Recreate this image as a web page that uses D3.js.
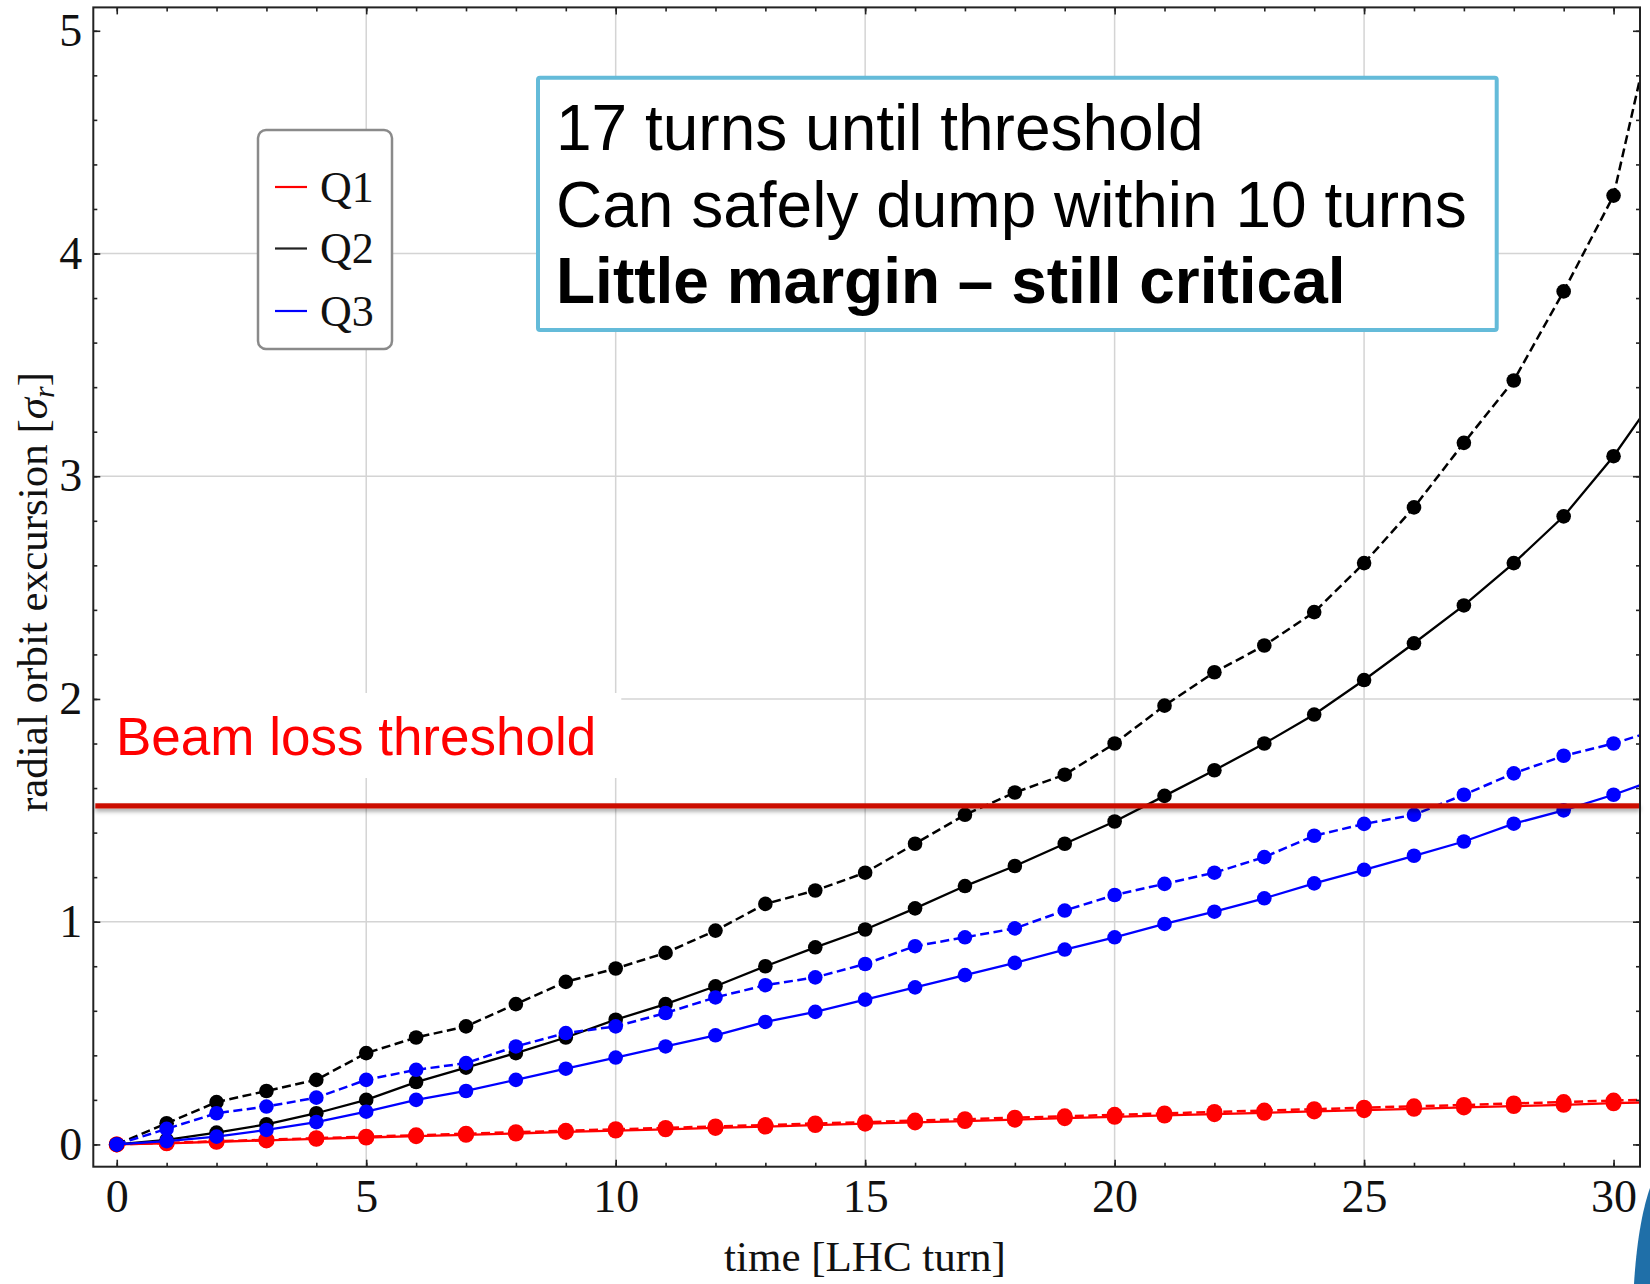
<!DOCTYPE html>
<html>
<head>
<meta charset="utf-8">
<script src="https://cdn.jsdelivr.net/npm/d3@7"></script>
<style>
  html, body { margin: 0; padding: 0; background: #ffffff; }
  svg { display: block; }
</style>
</head>
<body>
<svg id="chart" width="1650" height="1284"></svg>
<script>
// ---------------- data ----------------
const turns = [0,1,2,3,4,5,6,7,8,9,10,11,12,13,14,15,16,17,18,19,20,21,22,23,24,25,26,27,28,29,30,31];

const q1Solid  = [0, 0.005, 0.012, 0.018, 0.025, 0.031, 0.037, 0.043, 0.049, 0.056, 0.062, 0.068, 0.074, 0.080, 0.087, 0.093, 0.099, 0.105, 0.111, 0.118, 0.124, 0.130, 0.136, 0.142, 0.148, 0.154, 0.160, 0.166, 0.172, 0.178, 0.185, 0.191];
const q1Dashed = [0, 0.007, 0.014, 0.021, 0.028, 0.035, 0.041, 0.048, 0.055, 0.061, 0.068, 0.074, 0.081, 0.087, 0.094, 0.100, 0.107, 0.113, 0.120, 0.126, 0.133, 0.139, 0.146, 0.152, 0.158, 0.165, 0.171, 0.177, 0.184, 0.190, 0.197, 0.203];
const q2Solid  = [0, 0.02, 0.053, 0.09, 0.14, 0.20, 0.28, 0.345, 0.41, 0.48, 0.56, 0.63, 0.71, 0.80, 0.885, 0.965, 1.06, 1.16, 1.25, 1.35, 1.45, 1.565, 1.68, 1.80, 1.93, 2.085, 2.25, 2.42, 2.61, 2.82, 3.09, 3.41];
const q2Dashed = [0, 0.095, 0.19, 0.24, 0.29, 0.41, 0.48, 0.53, 0.63, 0.73, 0.79, 0.86, 0.96, 1.08, 1.14, 1.22, 1.35, 1.48, 1.58, 1.66, 1.80, 1.97, 2.12, 2.24, 2.39, 2.61, 2.86, 3.15, 3.43, 3.83, 4.26, 5.25];
const q3Solid  = [0, 0.015, 0.035, 0.065, 0.10, 0.147, 0.20, 0.24, 0.29, 0.34, 0.39, 0.44, 0.49, 0.55, 0.595, 0.65, 0.705, 0.76, 0.815, 0.875, 0.93, 0.99, 1.045, 1.105, 1.172, 1.233, 1.296, 1.36, 1.44, 1.50, 1.57, 1.65];
const q3Dashed = [0, 0.07, 0.14, 0.17, 0.21, 0.29, 0.335, 0.365, 0.44, 0.50, 0.53, 0.59, 0.66, 0.715, 0.75, 0.81, 0.89, 0.93, 0.97, 1.05, 1.12, 1.17, 1.22, 1.29, 1.386, 1.439, 1.48, 1.57, 1.666, 1.745, 1.80, 1.87];

const seriesNames  = ["Q1", "Q2", "Q3"];
const seriesColors = ["#ff0000", "#000000", "#0000ff"];

const xMajorTicks = [0, 5, 10, 15, 20, 25, 30];
const xMinorTicks = [0,1,2,3,4,5,6,7,8,9,10,11,12,13,14,15,16,17,18,19,20,21,22,23,24,25,26,27,28,29,30];
const yMajorTicks = [0, 1, 2, 3, 4, 5];
const yMinorTicks = [0,0.2,0.4,0.6,0.8,1,1.2,1.4,1.6,1.8,2,2.2,2.4,2.6,2.8,3,3.2,3.4,3.6,3.8,4,4.2,4.4,4.6,4.8,5];
const xGridTicks = [5, 10, 15, 20, 25];
const yGridTicks = [1, 2, 3, 4];

const xDomain = [-0.47, 30.53];
const yDomain = [-0.1, 5.105];
const threshold = 1.52;

const xLabel = "time [LHC turn]";
const thresholdLabel = "Beam loss threshold";
const noteLines = ["17 turns until threshold", "Can safely dump within 10 turns", "Little margin \u2013 still critical"];

// ---------------- layout ----------------
const L = 93.3, R = 1640, T = 7.4, B = 1166.7;
const svg = d3.select("#chart");
const x = d3.scaleLinear().domain(xDomain).range([L, R]);
const y = d3.scaleLinear().domain(yDomain).range([B, T]);

const defs = svg.append("defs");
defs.append("clipPath").attr("id", "plotclip")
  .append("rect").attr("x", L).attr("y", T).attr("width", R - L).attr("height", B - T);
const shadow = defs.append("filter").attr("id", "shadow")
  .attr("filterUnits", "userSpaceOnUse")
  .attr("x", 0).attr("y", 0).attr("width", 1650).attr("height", 1284);
shadow.append("feDropShadow").attr("dx", 0).attr("dy", 3).attr("stdDeviation", 2)
  .attr("flood-color", "#000").attr("flood-opacity", 0.35);

// grid
const grid = svg.append("g");
grid.selectAll(".gx").data(xGridTicks).join("line")
  .attr("x1", d => x(d)).attr("x2", d => x(d)).attr("y1", T).attr("y2", B)
  .attr("stroke", "#d4d4d4").attr("stroke-width", 1.5);
grid.selectAll(".gy").data(yGridTicks).join("line")
  .attr("y1", d => y(d)).attr("y2", d => y(d)).attr("x1", L).attr("x2", R)
  .attr("stroke", "#d4d4d4").attr("stroke-width", 1.5);

// data
const plot = svg.append("g").attr("clip-path", "url(#plotclip)");
const series = [
  {vals: q1Solid,  color: seriesColors[0], dash: null, w: 2.3},
  {vals: q1Dashed, color: seriesColors[0], dash: "9,4.5", w: 2.5},
  {vals: q2Solid,  color: seriesColors[1], dash: null, w: 2.3},
  {vals: q2Dashed, color: seriesColors[1], dash: "9,4.5", w: 2.5},
  {vals: q3Solid,  color: seriesColors[2], dash: null, w: 2.3},
  {vals: q3Dashed, color: seriesColors[2], dash: "9,4.5", w: 2.5}
];
const line = d3.line().x(d => x(d[0])).y(d => y(d[1]));
series.forEach(s => {
  const pts = turns.map((t, i) => [t, s.vals[i]]);
  const g = plot.append("g");
  g.append("path").datum(pts).attr("d", line)
    .attr("fill", "none").attr("stroke", s.color).attr("stroke-width", s.w)
    .attr("stroke-dasharray", s.dash);
  g.selectAll("circle").data(pts).join("circle")
    .attr("cx", d => x(d[0])).attr("cy", d => y(d[1])).attr("r", s.color === "#ff0000" ? 8 : 7.3)
    .attr("fill", s.color);
});

// threshold annotation
svg.append("rect").attr("x", L + 2).attr("y", 693).attr("width", 526).attr("height", 85).attr("fill", "#ffffff");
svg.append("text").attr("x", 116).attr("y", 755)
  .attr("font-family", "Liberation Sans, Arial, sans-serif").attr("font-size", 53)
  .attr("fill", "#ff0000").text(thresholdLabel);
svg.append("rect").attr("x", L + 2).attr("width", R - L - 2).attr("y", y(threshold) - 2.6).attr("height", 5.2)
  .attr("fill", "#cc1100").attr("filter", "url(#shadow)");

// note box
svg.append("rect").attr("x", 538).attr("y", 77.7).attr("width", 958.7).attr("height", 252.3)
  .attr("rx", 2).attr("fill", "#ffffff").attr("stroke", "#64bbd9").attr("stroke-width", 4);
svg.selectAll(".note").data(noteLines).join("text")
  .attr("x", 556).attr("y", (d, i) => 150 + i * 76.7)
  .attr("font-family", "Liberation Sans, Arial, sans-serif").attr("font-size", 64)
  .attr("font-weight", (d, i) => i === 2 ? "bold" : "normal")
  .attr("fill", "#000").text(d => d);

// legend
const lg = svg.append("g");
lg.append("rect").attr("x", 258).attr("y", 130).attr("width", 134).attr("height", 219).attr("rx", 8)
  .attr("fill", "#fff").attr("stroke", "#8a8a8a").attr("stroke-width", 2.5);
const rowsY = [187, 248.5, 311];
seriesNames.forEach((n, i) => {
  lg.append("line").attr("x1", 275).attr("x2", 307).attr("y1", rowsY[i]).attr("y2", rowsY[i])
    .attr("stroke", seriesColors[i] === "#000000" ? "#222" : seriesColors[i]).attr("stroke-width", 2.2);
  lg.append("text").attr("x", 320).attr("y", rowsY[i]).attr("dy", "0.34em")
    .attr("font-family", "Liberation Serif, Times New Roman, serif").attr("font-size", 44)
    .attr("fill", "#111").text(n);
});

// axes
const tickFont = "Liberation Serif, Times New Roman, serif";
function styleAxis(g) {
  g.select(".domain").remove();
  g.selectAll(".tick line").attr("stroke", "#222").attr("stroke-width", 1.6);
  g.selectAll(".tick text").attr("font-family", tickFont).attr("font-size", 46).attr("fill", "#111");
}
svg.append("g").attr("transform", `translate(0,${B})`)
  .call(d3.axisBottom(x).tickValues(xMinorTicks).tickSize(-4).tickFormat("")).call(styleAxis);
svg.append("g").attr("transform", `translate(0,${B})`)
  .call(d3.axisBottom(x).tickValues(xMajorTicks).tickSize(-7).tickPadding(13).tickFormat(d3.format("d"))).call(styleAxis);
svg.append("g").attr("transform", `translate(0,${T})`)
  .call(d3.axisTop(x).tickValues(xMinorTicks).tickSize(-4).tickFormat("")).call(styleAxis);
svg.append("g").attr("transform", `translate(0,${T})`)
  .call(d3.axisTop(x).tickValues(xMajorTicks).tickSize(-7).tickFormat("")).call(styleAxis);
svg.append("g").attr("transform", `translate(${L},0)`)
  .call(d3.axisLeft(y).tickValues(yMinorTicks).tickSize(-4).tickFormat("")).call(styleAxis);
svg.append("g").attr("transform", `translate(${L},0)`)
  .call(d3.axisLeft(y).tickValues(yMajorTicks).tickSize(-7).tickPadding(11).tickFormat(d3.format("d"))).call(styleAxis);
svg.append("g").attr("transform", `translate(${R},0)`)
  .call(d3.axisRight(y).tickValues(yMinorTicks).tickSize(-4).tickFormat("")).call(styleAxis);
svg.append("g").attr("transform", `translate(${R},0)`)
  .call(d3.axisRight(y).tickValues(yMajorTicks).tickSize(-7).tickFormat("")).call(styleAxis);

svg.append("rect").attr("x", L).attr("y", T).attr("width", R - L).attr("height", B - T)
  .attr("fill", "none").attr("stroke", "#222").attr("stroke-width", 2);

// axis labels
svg.append("text").attr("x", 865).attr("y", 1271).attr("text-anchor", "middle")
  .attr("font-family", tickFont).attr("font-size", 43).attr("fill", "#111").text(xLabel);
const yl = svg.append("text").attr("transform", "translate(47,592) rotate(-90)").attr("text-anchor", "middle")
  .attr("font-family", tickFont).attr("font-size", 43).attr("fill", "#111");
yl.append("tspan").text("radial orbit excursion [");
yl.append("tspan").attr("font-style", "italic").text("\u03c3");
yl.append("tspan").attr("font-style", "italic").attr("font-size", 30).attr("dy", 7).text("r");
yl.append("tspan").attr("dy", -7).text("]");

// slide decoration at bottom-right corner
svg.append("path").attr("d", "M1650,1188 C1644,1205 1637,1235 1634,1284 L1650,1284 Z").attr("fill", "#1f6fa8");
</script>
</body>
</html>
